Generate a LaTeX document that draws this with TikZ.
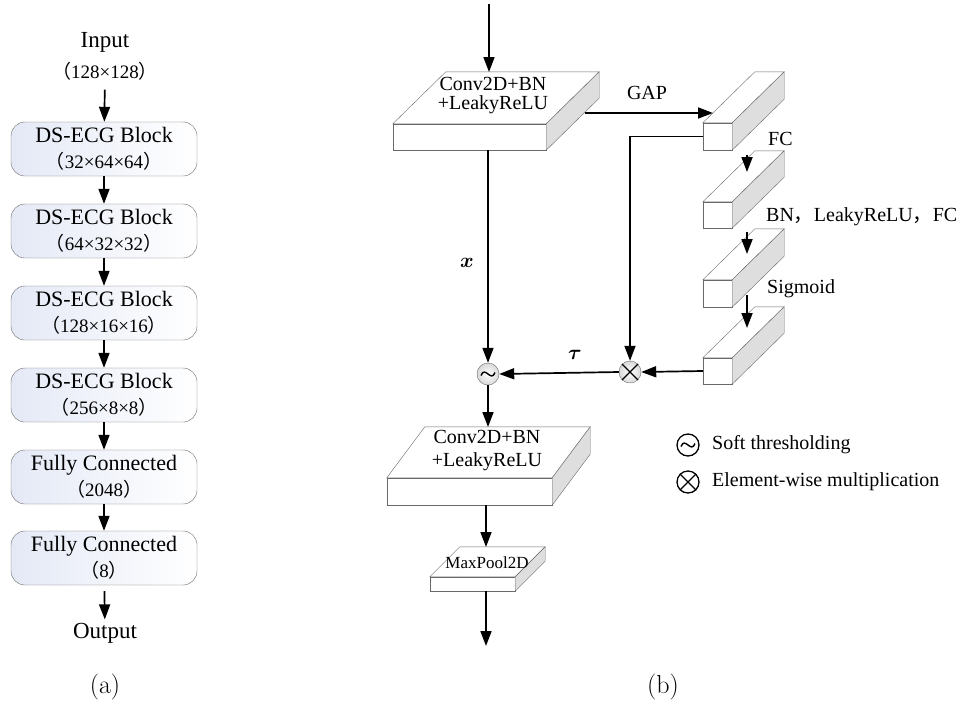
\documentclass[tikz,border=0pt]{standalone}
\usepackage{fontspec}
\usepackage{amsmath}
\setmainfont{Liberation Serif}
\newfontfamily\cjk{Noto Sans CJK SC}
\usepackage{tikz}
\usetikzlibrary{arrows.meta}
\usetikzlibrary{calc}

\definecolor{boxblue}{RGB}{228,233,246}
\definecolor{edgegray}{RGB}{105,105,105}
\definecolor{sidegray}{RGB}{222,222,222}

\newcommand{\lp}{{\cjk （}}
\newcommand{\rp}{{\cjk ）}}
\newcommand{\fwc}{{\cjk ，}}

% top and side faces of a slab drawn on its front node
\newcommand{\slabfaces}[3]{%
\draw[topface] (#1.north west) -- ++(#2,-#3) -- ($(#1.north east)+(#2,-#3)$) -- (#1.north east) -- cycle;
\draw[sideface] (#1.north east) -- ++(#2,-#3) -- ($(#1.south east)+(#2,-#3)$) -- (#1.south east) -- cycle;}
\newcommand{\tildein}[1]{%
\draw[line width=1.4pt] ($(#1)+(-7,1.5)$) .. controls ($(#1)+(-3,-9)$) and ($(#1)+(3,9)$) .. ($(#1)+(7,-1.5)$);}
\newcommand{\crossin}[1]{%
\draw[line width=1.3pt] (#1.north west) -- (#1.south east) (#1.north east) -- (#1.south west);}

\tikzset{
blockbox/.style={draw=edgegray, rounded corners=14pt, minimum width=186pt, minimum height=54pt,
  left color=boxblue, right color=white, align=center, inner sep=0pt, font=\fontsize{22}{26}\selectfont},
slab/.style={draw=edgegray, fill=white, inner sep=0pt},
topface/.style={draw=edgegray, fill=white},
sideface/.style={draw=edgegray, fill=sidegray},
flow/.style={-{Triangle[length=15pt,width=11pt]}, line width=1.7pt},
op/.style={circle, draw=edgegray, inner color=white, outer color=black!15, minimum size=22pt, inner sep=0pt},
legop/.style={circle, draw, line width=1.3pt, minimum size=22pt, inner sep=0pt},
lbl/.style={font=\fontsize{20}{24}\selectfont, inner sep=1pt},
size/.style={font=\fontsize{19}{22}\selectfont},
}

\begin{document}
\begin{tikzpicture}[x=1pt,y=-1pt]
\useasboundingbox (0,0) rectangle (963,702);

% (a) network
\node[font=\fontsize{23}{26}\selectfont] (in) at (105,42) {Input};
\node[size] (insz) at (105,71) {\lp128×128\rp};
\node[blockbox] (b1) at (104,149) {DS-ECG Block\\{\fontsize{19}{22}\selectfont\lp32×64×64\rp}};
\node[blockbox] (b2) at (104,231) {DS-ECG Block\\{\fontsize{19}{22}\selectfont\lp64×32×32\rp}};
\node[blockbox] (b3) at (104,313) {DS-ECG Block\\{\fontsize{19}{22}\selectfont\lp128×16×16\rp}};
\node[blockbox] (b4) at (104,395) {DS-ECG Block\\{\fontsize{19}{22}\selectfont\lp256×8×8\rp}};
\node[blockbox] (b5) at (104,477) {Fully Connected\\{\fontsize{19}{22}\selectfont\lp2048\rp}};
\node[blockbox] (b6) at (104,558) {Fully Connected\\{\fontsize{19}{22}\selectfont\lp8\rp}};
\node[font=\fontsize{23}{26}\selectfont] (out) at (105,633) {Output};
\node[font=\fontsize{26}{30}\fontfamily{lmr}\selectfont] (capa) at (105,687) {(a)};

\draw[flow, shorten <=6pt] (insz) -- (b1);
\foreach \a/\b in {b1/b2,b2/b3,b3/b4,b4/b5,b5/b6}
  \draw[flow] (\a) -- (\b);
\draw[flow, shorten <=6pt] (b6) -- (out);

% (b) block
\coordinate (src) at (489,4);
\coordinate (c1in) at (489,72);
\node[slab, minimum width=153pt, minimum height=26pt] (c1) at (469.5,137) {};
\slabfaces{c1}{53}{52}
\node[lbl, align=center, font=\fontsize{20}{19}\selectfont] (c1t) at (493,96) {Conv2D+BN\\+LeakyReLU};
\draw[flow] (src) -- (c1in);

\node[slab, minimum width=29pt, minimum height=27pt] (g1) at (717.5,136.5) {};
\slabfaces{g1}{52}{51}
\node[slab, minimum width=29pt, minimum height=26pt] (g2) at (717.5,215) {};
\slabfaces{g2}{52}{51}
\node[slab, minimum width=29pt, minimum height=27pt] (g3) at (717.5,293.5) {};
\slabfaces{g3}{52}{51}
\node[slab, minimum width=29pt, minimum height=26pt] (g4) at (717.5,371) {};
\slabfaces{g4}{52}{51}

\node[lbl] (gap) at (647,93) {GAP};
\node[lbl, anchor=west] (fc) at (767,139) {FC};
\node[lbl, anchor=west] (bnfc) at (765,217) {BN\fwc LeakyReLU\fwc FC};
\node[lbl, anchor=west] (sig) at (766,289) {Sigmoid};

\coordinate (c1r) at (585,113);
\coordinate (g1in) at (713,113);
\draw[flow] (c1r) -- (g1in);
\coordinate (g1o) at (747,155);  \coordinate (g2i) at (747,172);
\coordinate (g2o) at (747,232);  \coordinate (g3i) at (747,254);
\coordinate (g3o) at (747,295);  \coordinate (g4i) at (747,328);
\draw[flow] (g1o) -- (g2i);
\draw[flow] (g2o) -- (g3i);
\draw[flow] (g3o) -- (g4i);

\node[op] (mul) at (630,372) {};
\crossin{mul}
\node[op] (soft) at (488,374) {};
\tildein{soft}

\draw[flow] (g1.west) -| (mul.north);
\draw[flow] (g4.west) -- (mul.east);
\draw[flow] (mul.west) -- (soft.east);
\node[lbl] (tau) at (575,355) {$\boldsymbol{\tau}$};

\coordinate (c1out) at (488,150);
\draw[flow] (c1out) -- (soft.north);
\node[lbl] (xl) at (467,263) {$\boldsymbol{x}$};

\node[slab, minimum width=165pt, minimum height=27pt] (c2) at (469.5,491.5) {};
\slabfaces{c2}{38}{51}
\node[lbl, align=center, font=\fontsize{20}{23}\selectfont] (c2t) at (487,451) {Conv2D+BN\\+LeakyReLU};
\coordinate (c2in) at (488,427);
\draw[flow] (soft.south) -- (c2in);

\node[slab, minimum width=85pt, minimum height=14pt] (mp) at (472.5,584) {};
\slabfaces{mp}{30}{30}
\node[lbl, font=\fontsize{17}{20}\selectfont] (mpt) at (487,563) {MaxPool2D};
\coordinate (c2out) at (486,505);
\coordinate (mpin) at (486,547);
\draw[flow] (c2out) -- (mpin);
\coordinate (mpout) at (486,591);
\coordinate (sink) at (486,646);
\draw[flow] (mpout) -- (sink);

% legend
\node[legop] (lsoft) at (688,445) {};
\tildein{lsoft}
\node[lbl, anchor=west] (lsofttxt) at (711,445) {Soft thresholding};
\node[legop] (lmul) at (688,482) {};
\crossin{lmul}
\node[lbl, anchor=west] (lmultxt) at (711,482) {Element-wise multiplication};

\node[font=\fontsize{26}{30}\fontfamily{lmr}\selectfont] (capb) at (663,687) {(b)};
\end{tikzpicture}
\end{document}
